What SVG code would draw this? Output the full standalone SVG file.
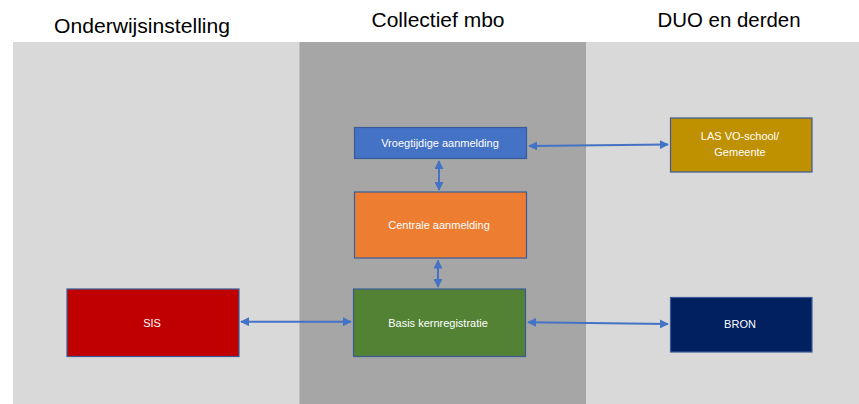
<svg xmlns="http://www.w3.org/2000/svg" width="859" height="404" viewBox="0 0 859 404">
  <style>
    .title { font-family: "Liberation Sans", Arial, sans-serif; font-size: 20px; fill: #000000; text-anchor: middle; }
    .box { stroke: #3a5a98; stroke-width: 1.2; }
    .lbl { font-family: "Liberation Sans", Arial, sans-serif; font-size: 11px; fill: #ffffff; text-anchor: middle; dominant-baseline: central; }
    .conn { stroke: #4472c4; stroke-width: 2; fill: none; marker-start: url(#arr); marker-end: url(#arr); }
  </style>
  <defs>
    <marker id="arr" viewBox="0 0 10 10" refX="9" refY="5" markerWidth="4.5" markerHeight="4.5" orient="auto-start-reverse" markerUnits="strokeWidth">
      <path d="M0,0 L10,5 L0,10 Z" fill="#4472c4"/>
    </marker>
  </defs>
  <rect x="0" y="0" width="859" height="404" fill="#ffffff"/>
  <g id="panels">
    <rect x="13" y="42" width="287" height="362" fill="#d9d9d9"/>
    <rect x="299.5" y="42" width="286.5" height="362" fill="#a6a6a6"/>
    <rect x="586" y="42" width="273" height="362" fill="#d9d9d9"/>
  </g>
  <g id="titles">
    <text class="title" x="142" y="33" textLength="176" lengthAdjust="spacingAndGlyphs">Onderwijsinstelling</text>
    <text class="title" x="438" y="27" textLength="133" lengthAdjust="spacingAndGlyphs">Collectief mbo</text>
    <text class="title" x="729" y="27" textLength="143" lengthAdjust="spacingAndGlyphs">DUO en derden</text>
  </g>
  <g id="connectors">
    <line class="conn" x1="529" y1="146" x2="668" y2="144.5"/>
    <line class="conn" x1="439" y1="161" x2="439" y2="190"/>
    <line class="conn" x1="438" y1="260.5" x2="438" y2="287"/>
    <line class="conn" x1="241" y1="321.7" x2="351" y2="321.7"/>
    <line class="conn" x1="528" y1="322.3" x2="668" y2="324"/>
  </g>
  <g id="node-vroeg">
    <rect class="box" x="354.5" y="127.5" width="172" height="31" fill="#4472c4"/>
    <text class="lbl" x="440" y="143">Vroegtijdige aanmelding</text>
  </g>
  <g id="node-centrale">
    <rect class="box" x="354.5" y="192" width="172" height="66" fill="#ed7d31"/>
    <text class="lbl" x="439" y="225">Centrale aanmelding</text>
  </g>
  <g id="node-basis">
    <rect class="box" x="353.5" y="289" width="172" height="67.5" fill="#548235"/>
    <text class="lbl" x="438" y="322.7">Basis kernregistratie</text>
  </g>
  <g id="node-sis">
    <rect class="box" x="67" y="289" width="172" height="67.5" fill="#c00000"/>
    <text class="lbl" x="152" y="322.7">SIS</text>
  </g>
  <g id="node-las">
    <rect class="box" x="670.5" y="118" width="141.5" height="54" fill="#bf9000"/>
    <text class="lbl" x="740" y="136">LAS VO-school/</text>
    <text class="lbl" x="740" y="152.3">Gemeente</text>
  </g>
  <g id="node-bron">
    <rect class="box" x="670.5" y="297.5" width="141.5" height="54.5" fill="#002060"/>
    <text class="lbl" x="740" y="323.7">BRON</text>
  </g>
</svg>
